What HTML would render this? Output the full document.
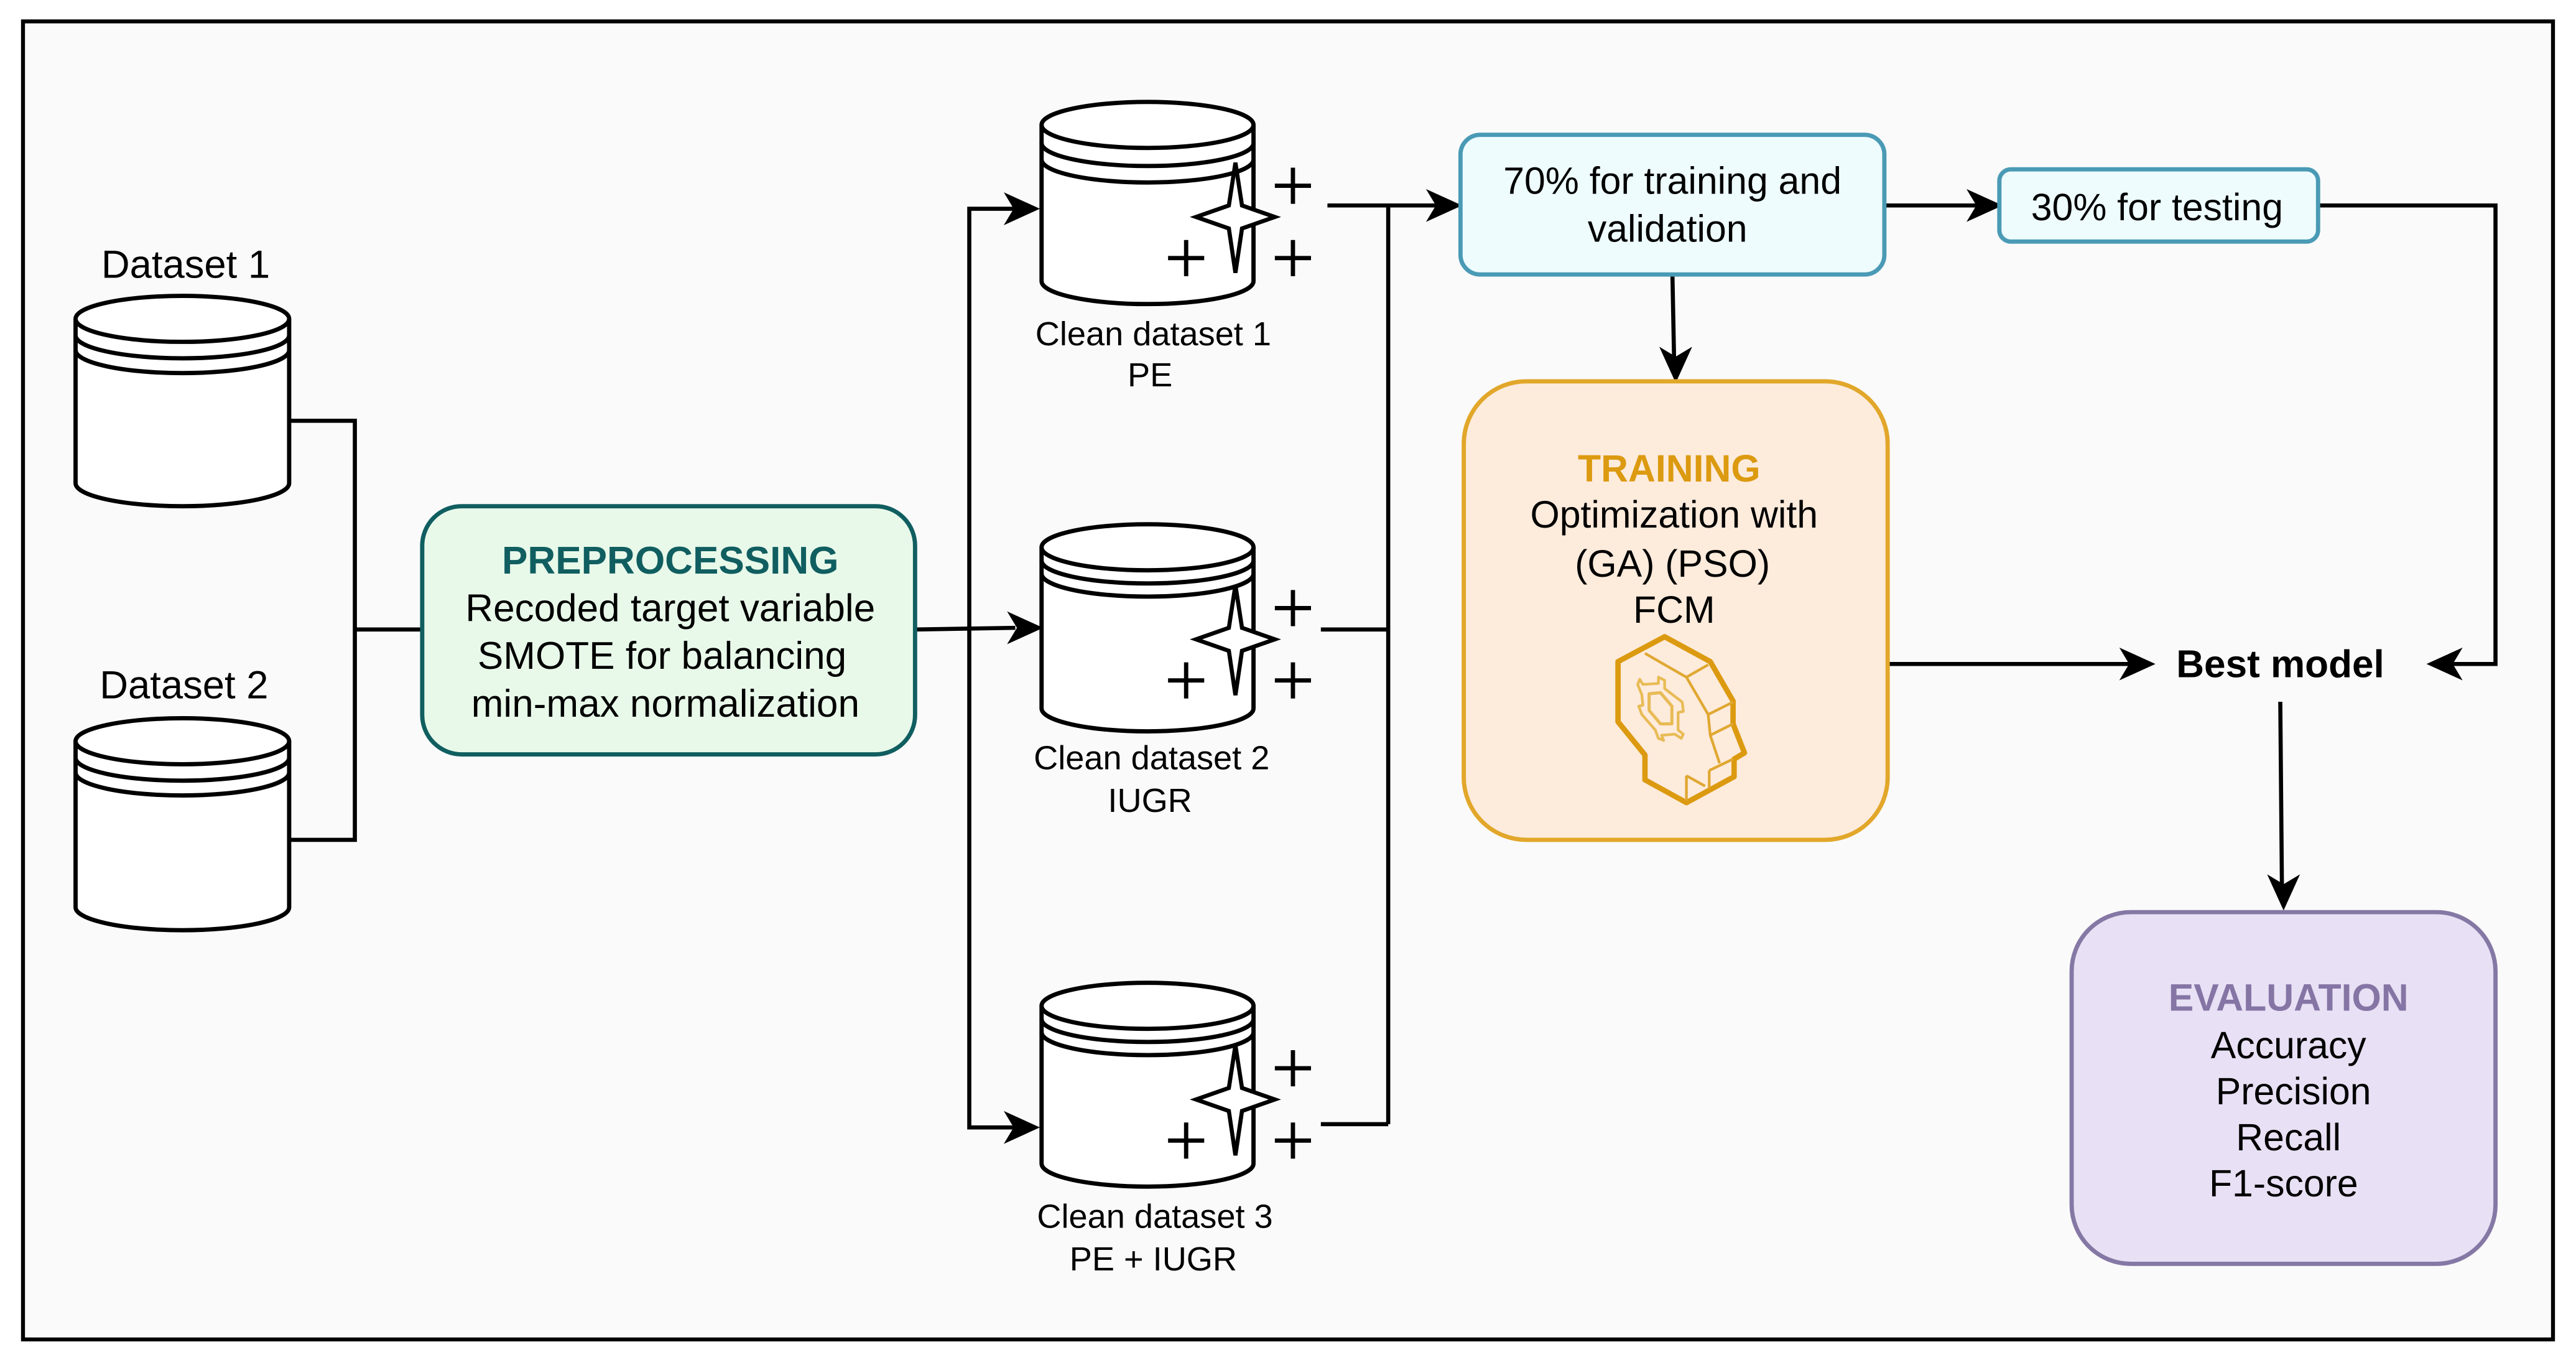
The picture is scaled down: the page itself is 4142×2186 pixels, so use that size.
<!DOCTYPE html>
<html><head><meta charset="utf-8"><style>html,body{margin:0;padding:0;background:#fff}svg{display:block}</style></head>
<body>
<svg xmlns="http://www.w3.org/2000/svg" width="4142" height="2186" viewBox="0 0 1568 827.5" font-family="'Liberation Sans', Arial, sans-serif">
<rect x="0" y="0" width="1568" height="827.5" fill="#fff"/>
<rect x="14" y="13" width="1540" height="802" fill="#fafafa" stroke="#000" stroke-width="2.4"/>

<g fill="none" stroke="#000" stroke-width="2.5">
<path d="M176 256 H216 V511 H176"/>
<path d="M216 383 H257"/>
<path d="M557 383 L618 382"/>
<path d="M618 127 H590 V686 H618"/>
<path d="M808 125 H875"/>
<path d="M804 383 H845 M804 684 H845 M845 125 V684"/>
<path d="M1147 125 H1205"/>
<path d="M1411 125 H1519 V404 H1492"/>
<path d="M1018 167 L1019 218"/>
<path d="M1149 404 H1296"/>
<path d="M1388 427 L1389 540"/>
</g>
<g fill="#000">
<path d="M633 127 L611 117 L617 127 L611 137 Z"/>
<path d="M635 382 L613 372 L619 382 L613 392 Z"/>
<path d="M633 686 L611 676 L617 686 L611 696 Z"/>
<path d="M890 125 L868 115 L874 125 L868 135 Z"/>
<path d="M1219 125 L1197 115 L1203 125 L1197 135 Z"/>
<path d="M1020 233 L1010 211 L1020 217 L1030 211 Z"/>
<path d="M1312 404 L1290 394 L1296 404 L1290 414 Z"/>
<path d="M1477 404 L1499 394 L1493 404 L1499 414 Z"/>
<path d="M1390 554 L1380 532 L1390 538 L1400 532 Z"/>
</g>

<g fill="#fff" stroke="#000" stroke-width="2.6">
<g>
<path d="M46 194 A65 14 0 0 1 176 194 V294 A65 14 0 0 1 46 294 Z"/>
<path d="M46 194 A65 14 0 0 0 176 194 M46 204 A65 14 0 0 0 176 204 M46 213 A65 14 0 0 0 176 213" fill="none"/>
</g>
<g>
<path d="M46 451 A65 14 0 0 1 176 451 V552 A65 14 0 0 1 46 552 Z"/>
<path d="M46 451 A65 14 0 0 0 176 451 M46 461 A65 14 0 0 0 176 461 M46 470 A65 14 0 0 0 176 470" fill="none"/>
</g>
<g>
<path d="M634 76 A64.5 14 0 0 1 763 76 V171 A64.5 14 0 0 1 634 171 Z"/>
<path d="M634 76 A64.5 14 0 0 0 763 76 M634 87 A64.5 14 0 0 0 763 87 M634 97 A64.5 14 0 0 0 763 97" fill="none"/>
</g>
<g>
<path d="M634 333 A64.5 14 0 0 1 763 333 V431 A64.5 14 0 0 1 634 431 Z"/>
<path d="M634 333 A64.5 14 0 0 0 763 333 M634 341 A64.5 14 0 0 0 763 341 M634 349 A64.5 14 0 0 0 763 349" fill="none"/>
</g>
<g>
<path d="M634 612 A64.5 14 0 0 1 763 612 V708 A64.5 14 0 0 1 634 708 Z"/>
<path d="M634 612 A64.5 14 0 0 0 763 612 M634 620 A64.5 14 0 0 0 763 620 M634 628 A64.5 14 0 0 0 763 628" fill="none"/>
</g>
</g>

<g id="sp" fill="none" stroke="#000" stroke-width="2.5">
<path d="M752 99 L756 125 L776 132 L756 139 L752 166 L748 139 L728 132 L748 125 Z" fill="#fff"/>
<path d="M776 113 H798 M787 102 V124 M711 157 H733 M722 146 V168 M776 157 H798 M787 146 V168" stroke-width="2.6"/>
</g>
<use href="#sp" transform="translate(0,257)"/>
<use href="#sp" transform="translate(0,537)"/>

<g font-size="24" fill="#000" text-anchor="middle">
<text x="113" y="169">Dataset 1</text>
<text x="112" y="425">Dataset 2</text>
</g>
<g font-size="20.5" fill="#000" text-anchor="middle">
<text x="702" y="210">Clean dataset 1</text>
<text x="700" y="235">PE</text>
<text x="701" y="468">Clean dataset 2</text>
<text x="700" y="494">IUGR</text>
<text x="703" y="747">Clean dataset 3</text>
<text x="702" y="773">PE + IUGR</text>
</g>

<rect x="257" y="308" width="300" height="151" rx="24" fill="#e8f9ea" stroke="#105e60" stroke-width="2.6"/>
<g font-size="23.5" text-anchor="middle" fill="#000">
<text x="408" y="349" font-weight="bold" fill="#105e60">PREPROCESSING</text>
<text x="408" y="378">Recoded target variable</text>
<text x="403" y="407">SMOTE for balancing</text>
<text x="405" y="436">min-max normalization</text>
</g>

<rect x="889" y="82" width="258" height="85" rx="12" fill="#eefcfe" stroke="#4a9ab5" stroke-width="2.6"/>
<rect x="1217" y="103" width="194" height="44" rx="7" fill="#eefcfe" stroke="#4a9ab5" stroke-width="2.6"/>
<g font-size="23" text-anchor="middle" fill="#000">
<text x="1018" y="118">70% for training and</text>
<text x="1015" y="147">validation</text>
<text x="1313" y="134">30% for testing</text>
</g>

<rect x="891" y="232" width="258" height="279" rx="38" fill="#fdebdc" stroke="#e2a72a" stroke-width="2.6"/>
<g font-size="23" text-anchor="middle" fill="#000">
<text x="1016" y="293" font-weight="bold" fill="#dc9a10">TRAINING</text>
<text x="1019" y="321">Optimization with</text>
<text x="1018" y="351">(GA) (PSO)</text>
<text x="1019" y="379">FCM</text>
</g>
<g transform="translate(969.1,378.6) scale(0.12618)" fill="none" stroke="#dc9a10" stroke-linejoin="round">
<path d="M350 70 L125 190 L125 480 L255 640 L255 760 L455 870 L685 745 L685 660 L735 630 L680 490 L680 380 L570 190 Z" stroke-width="26"/>
<path d="M255 150 L455 265 L560 205 M455 265 L560 445 L680 385 M560 445 L570 545 L680 490 M570 545 L615 680 M565 715 L680 660 M565 715 L565 800 M455 740 L455 860 M455 740 L545 790" stroke-width="13" stroke="#e0a832"/>
<path d="M275 345 L330 340 L385 405 L385 490 L330 490 L275 425 Z" stroke-width="15" stroke="#e8bb55"/>
<path d="M230 275 L245 300 L320 295 L320 265 L350 280 L350 320 L435 385 L440 430 L415 435 L415 520 L440 540 L430 560 L400 540 L335 545 L345 570 L320 560 L305 520 L240 445 L225 405 L245 400 L240 350 L220 300 Z" stroke-width="13" stroke="#e8bb55"/>
</g>

<text x="1388" y="412" font-size="23.5" font-weight="bold" text-anchor="middle" fill="#000">Best model</text>

<rect x="1261" y="555" width="258" height="214" rx="36" fill="#e8e0f4" stroke="#8578a5" stroke-width="2.6"/>
<g font-size="23" text-anchor="middle" fill="#000">
<text x="1393" y="615" font-weight="bold" fill="#8575a5">EVALUATION</text>
<text x="1393" y="644">Accuracy</text>
<text x="1396" y="672">Precision</text>
<text x="1393" y="700">Recall</text>
<text x="1390" y="728">F1-score</text>
</g>
</svg>
</body></html>
